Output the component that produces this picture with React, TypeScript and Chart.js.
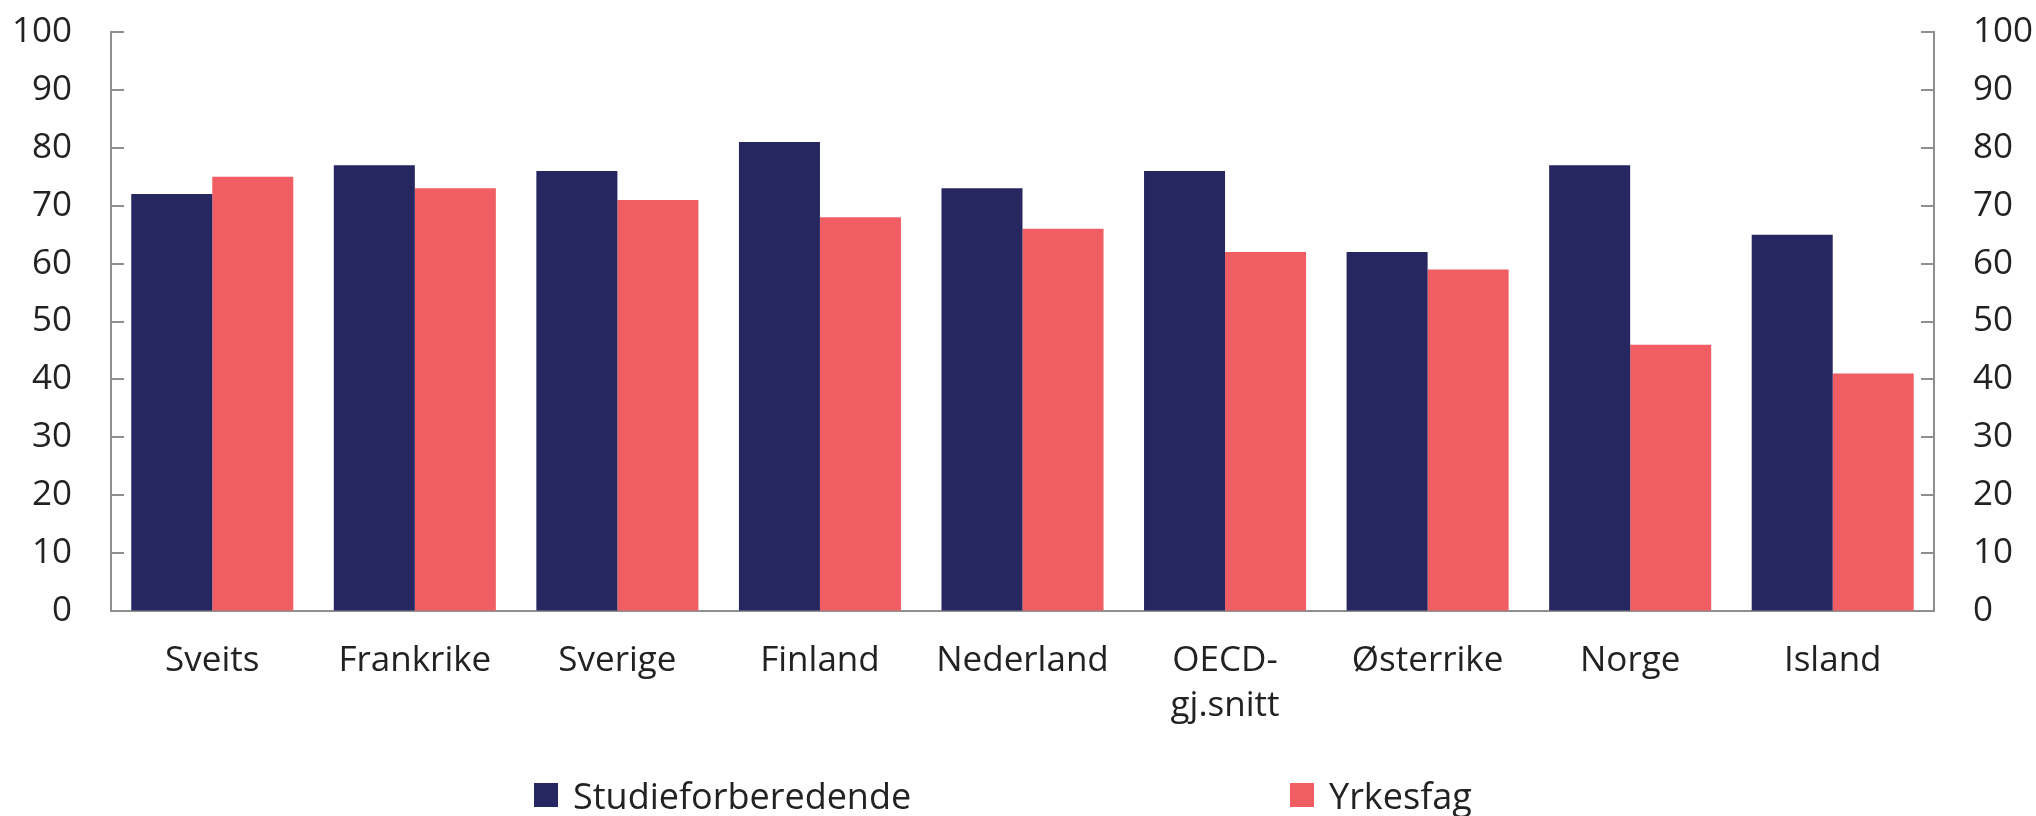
import React, { useEffect, useRef } from 'react';
import { Chart, registerables } from 'chart.js';

Chart.register(...registerables);

const categories: (string | string[])[] = [
  'Sveits',
  'Frankrike',
  'Sverige',
  'Finland',
  'Nederland',
  ['OECD-', 'gj.snitt'],
  'Østerrike',
  'Norge',
  'Island',
];
const studieforberedende = [72, 77, 76, 81, 73, 76, 62, 77, 65];
const yrkesfag = [75, 73, 71, 68, 66, 62, 59, 46, 41];
const seriesNames = ['Studieforberedende', 'Yrkesfag'];
const seriesColors = ['#262661', '#F05E63'];
const yMin = 0;
const yMax = 100;
const yStep = 10;

const FONT = "'Open Sans', sans-serif";
const TEXT = '#222222';
const AXIS = '#8f8f8f';

const inwardTicks = {
  id: 'inwardTicks',
  afterDraw(chart: any) {
    const ctx = chart.ctx;
    const { left, right } = chart.chartArea;
    const ys = chart.scales.y;
    ctx.save();
    ctx.strokeStyle = AXIS;
    ctx.lineWidth = 2;
    ys.ticks.forEach((_t: any, i: number) => {
      const py = Math.round(ys.getPixelForTick(i));
      ctx.beginPath();
      ctx.moveTo(left, py);
      ctx.lineTo(left + 13, py);
      ctx.moveTo(right, py);
      ctx.lineTo(right - 13, py);
      ctx.stroke();
    });
    ctx.restore();
  },
};

export default function App() {
  const ref = useRef<HTMLCanvasElement | null>(null);

  useEffect(() => {
    if (!ref.current) return;
    const tickFont = { family: FONT, size: 35, lineHeight: 1.3 };
    const fitY = (w: number) => (s: any) => {
      s.width = w;
      s.paddingTop = 0;
      s.paddingBottom = 0;
    };
    const chart = new Chart(ref.current, {
      type: 'bar',
      data: {
        labels: categories as any,
        datasets: [
          {
            label: seriesNames[0],
            data: studieforberedende,
            backgroundColor: seriesColors[0],
            categoryPercentage: 0.8,
            barPercentage: 1.0,
            yAxisID: 'y',
          },
          {
            label: seriesNames[1],
            data: yrkesfag,
            backgroundColor: seriesColors[1],
            categoryPercentage: 0.8,
            barPercentage: 1.0,
            yAxisID: 'y',
          },
        ],
      },
      options: {
        animation: false,
        responsive: false,
        maintainAspectRatio: false,
        layout: { autoPadding: false, padding: { top: 32, bottom: 86, left: 0, right: 0 } },
        plugins: {
          legend: { display: false },
          tooltip: { enabled: false },
        },
        scales: {
          x: {
            grid: { display: true, drawOnChartArea: false, drawTicks: false },
            border: { display: true, color: AXIS, width: 2 },
            ticks: { font: tickFont, color: TEXT, padding: 27, maxRotation: 0, autoSkip: false },
            afterFit: (s: any) => {
              s.height = 119;
              s.paddingLeft = 0;
              s.paddingRight = 0;
            },
          },
          y: {
            position: 'left',
            min: yMin,
            max: yMax,
            grid: { display: true, drawOnChartArea: false, drawTicks: false },
            border: { display: true, color: AXIS, width: 2 },
            ticks: { stepSize: yStep, font: tickFont, color: TEXT, padding: 39 },
            afterFit: fitY(111),
          },
          y2: {
            position: 'right',
            min: yMin,
            max: yMax,
            grid: { display: true, drawOnChartArea: false, drawTicks: false },
            border: { display: true, color: AXIS, width: 2 },
            ticks: { stepSize: yStep, font: tickFont, color: TEXT, padding: 39 },
            afterFit: fitY(102),
          },
        },
      } as any,
      plugins: [inwardTicks],
    });
    return () => chart.destroy();
  }, []);

  const legendItem = (i: number, left: number) => (
    <div
      key={i}
      style={{
        position: 'absolute',
        left,
        top: 770,
        height: 50,
        display: 'flex',
        alignItems: 'center',
        fontFamily: FONT,
        fontSize: 36,
        color: TEXT,
        whiteSpace: 'nowrap',
      }}
    >
      <span
        style={{
          display: 'inline-block',
          width: 24,
          height: 24,
          background: seriesColors[i],
          marginRight: 15,
        }}
      />
      <span>{seriesNames[i]}</span>
    </div>
  );

  return (
    <div
      style={{
        position: 'fixed',
        left: 0,
        top: 0,
        width: 2036,
        height: 816,
        background: '#ffffff',
        overflow: 'hidden',
      }}
    >
      <canvas ref={ref} width={2036} height={816} style={{ display: 'block', width: 2036, height: 816 }} />
      {legendItem(0, 534)}
      {legendItem(1, 1290)}
    </div>
  );
}
